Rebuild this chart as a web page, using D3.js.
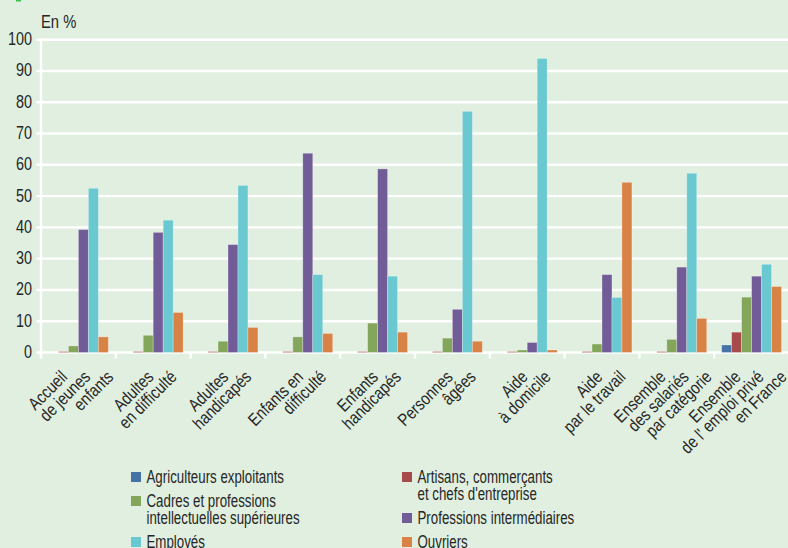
<!DOCTYPE html>
<html>
<head>
<meta charset="utf-8">
<script src="https://cdn.jsdelivr.net/npm/d3@7"></script>
<style>html,body{margin:0;padding:0;background:#e0efe0;} svg{display:block;}</style>
</head>
<body>
<svg id="chart" width="788" height="548"></svg>
<script>
// ---------- DATA ----------
const categories = [
  "Accueil\nde jeunes\nenfants",
  "Adultes\nen difficulté",
  "Adultes\nhandicapés",
  "Enfants en\ndifficulté",
  "Enfants\nhandicapés",
  "Personnes\nâgées",
  "Aide\nà domicile",
  "Aide\npar le travail",
  "Ensemble\ndes salariés\npar catégorie",
  "Ensemble\nde l' emploi privé\nen France"
];
const seriesNames = [
  "Agriculteurs exploitants",
  "Artisans, commerçants\net chefs d'entreprise",
  "Cadres et professions\nintellectuelles supérieures",
  "Professions intermédiaires",
  "Employés",
  "Ouvriers"
];
const agriculteurs = [0, 0, 0, 0, 0, 0, 0, 0, 0, 2.4];
const artisans     = [0.3, 0.3, 0.3, 0.3, 0.3, 0.3, 0.3, 0.3, 0.3, 6.5];
const cadres       = [2.1, 5.5, 3.6, 5.0, 9.4, 4.6, 0.8, 2.7, 4.2, 17.7];
const professions  = [39.3, 38.4, 34.5, 63.7, 58.7, 13.8, 3.2, 24.9, 27.3, 24.4];
const employes     = [52.5, 42.3, 53.4, 24.9, 24.4, 77.1, 94.0, 17.6, 57.3, 28.2];
const ouvriers     = [5.0, 12.8, 8.0, 6.1, 6.5, 3.6, 0.8, 54.4, 10.9, 21.1];
const yTicks = [0, 10, 20, 30, 40, 50, 60, 70, 80, 90, 100];
const unitLabel = "En %";

// ---------- STYLE / LAYOUT ----------
const colors = ["#4573a7", "#a64a4a", "#83a65b", "#725c97", "#69c8d0", "#d98245"];
const BG = "#e0efe0", TXT = "#262626";
const FONT = "'Liberation Sans', Arial, sans-serif";
const values = [agriculteurs, artisans, cadres, professions, employes, ouvriers];

const W = 788, H = 548;
const svg = d3.select("#chart");
svg.append("rect").attr("width", W).attr("height", H).attr("fill", BG);
svg.append("rect").attr("x", 16).attr("y", 0).attr("width", 5).attr("height", 1.5).attr("fill", "#3cbf4a");

// condensed look: squeeze glyphs horizontally
function squeeze(sel, f) {
  sel.each(function () {
    const w = this.getComputedTextLength();
    d3.select(this).attr("textLength", w * f).attr("lengthAdjust", "spacingAndGlyphs");
  });
  return sel;
}

// scales
const x0 = d3.scaleBand().domain(d3.range(categories.length)).range([41, 789]).paddingInner(0.2).paddingOuter(0.1);
const x1 = d3.scaleBand().domain(d3.range(values.length)).range([0, x0.bandwidth()]);
const y = d3.scaleLinear().domain([0, 100]).range([352.5, 39.7]);
const step = x0.step();

// gridlines
svg.append("g").selectAll("line").data(yTicks).join("line")
  .attr("x1", 36.5).attr("x2", 789)
  .attr("y1", d => y(d)).attr("y2", d => y(d))
  .attr("stroke", "#fff").attr("stroke-width", 2.4);
// y axis line
svg.append("line").attr("x1", 41).attr("x2", 41).attr("y1", y(100) - 1).attr("y2", y(0) + 6)
  .attr("stroke", "#fff").attr("stroke-width", 2.4);
// x ticks at band boundaries
svg.append("g").selectAll("line").data(d3.range(categories.length + 1)).join("line")
  .attr("x1", i => 41 + i * step).attr("x2", i => 41 + i * step)
  .attr("y1", y(0)).attr("y2", y(0) + 6)
  .attr("stroke", "#fff").attr("stroke-width", 2.4);

// y tick labels
squeeze(svg.append("g").selectAll("text").data(yTicks).join("text")
  .attr("x", 32).attr("y", d => y(d) + 5.5)
  .attr("text-anchor", "end").attr("font-family", FONT).attr("font-size", 18).attr("fill", TXT)
  .text(d => d), 0.8);
squeeze(svg.append("text").attr("x", 41).attr("y", 27.5).attr("font-family", FONT).attr("font-size", 18)
  .attr("fill", TXT).text(unitLabel), 0.82);

// bars
const groups = svg.append("g").selectAll("g").data(categories).join("g")
  .attr("transform", (d, i) => `translate(${x0(i)},0)`);
groups.selectAll("rect").data((d, i) => values.map((s, k) => ({ k, v: s[i] })).filter(o => o.v > 0)).join("rect")
  .attr("x", o => x1(o.k)).attr("width", x1.bandwidth())
  .attr("y", o => y(o.v)).attr("height", o => y(0) - y(o.v))
  .attr("fill", o => colors[o.k])
  .attr("stroke", "rgba(255,255,255,0.35)").attr("stroke-width", 0.8);

// category labels: each line end-anchored on a common horizontal line, rotated -45°
const FS = 17.5, LSTEP = 23, LY = 378;
categories.forEach((c, i) => {
  const lines = c.split("\n");
  const cx = x0(i) + x0.bandwidth() / 2;
  lines.forEach((ln, j) => {
    const xe = cx + 13 + (j - (lines.length - 1) / 2) * LSTEP;
    const t = svg.append("text")
      .attr("transform", `translate(${xe},${LY}) rotate(-45)`)
      .attr("text-anchor", "end")
      .attr("font-family", FONT).attr("font-size", FS).attr("fill", TXT).text(ln);
    squeeze(t, 0.83);
  });
});

// legend
const legCols = [131, 402];
const legY0 = 472;
const colY = [legY0, legY0];
seriesNames.forEach((name, k) => {
  const col = k % 2;
  const lines = name.split("\n");
  const yy = colY[col];
  svg.append("rect").attr("x", legCols[col]).attr("y", yy).attr("width", 10).attr("height", 10).attr("fill", colors[k]);
  lines.forEach((ln, j) => {
    squeeze(svg.append("text").attr("x", legCols[col] + 15.5).attr("y", yy + 11 + j * 17)
      .attr("font-family", FONT).attr("font-size", 17.5).attr("fill", TXT).text(ln), 0.76);
  });
  colY[col] = yy + lines.length * 17 + 7;
});
</script>
</body>
</html>
